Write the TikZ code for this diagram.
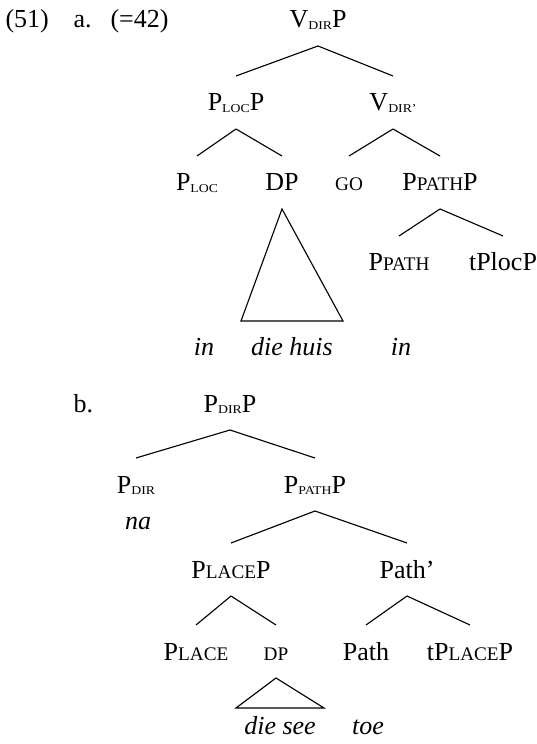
\documentclass[tikz,border=0pt]{standalone}
\usepackage{graphicx}
\usepackage{fontspec}
\setmainfont{Liberation Serif}
\newfontfamily\scfont[Scale=0.74]{Liberation Serif}
\newfontfamily\subfont[Scale=0.46]{Liberation Serif}
\usetikzlibrary{calc}
\newcommand\smc[1]{{\scfont #1}}
\newcommand\lowsc[1]{\raisebox{-0.6pt}{\scalebox{1.15}[1]{\subfont #1}}}
\begin{document}
\begin{tikzpicture}[x=0.4pt,y=-0.4pt,
  lab/.style={anchor=base, inner xsep=0pt, inner ysep=7pt, text height=6.8pt, text depth=0pt,
    font=\fontsize{10.4pt}{12pt}\selectfont},
  edge/.style={draw, line width=0.45pt}]
\useasboundingbox (0,0) rectangle (537,744);
% (a)
\node[lab, anchor=base west] (ex51) at (5,28) {(51)};
\node[lab, anchor=base west] (exa) at (73,28) {a.};
\node[lab, anchor=base west] (ex42) at (110,28) {(=42)};
\node[lab] (vdirp) at (318,28) {V\lowsc{DIR}P};
\node[lab] (plocp) at (236,111) {P\lowsc{LOC}P};
\node[lab] (vdirbar) at (393,111) {V\lowsc{DIR’}};
\node[lab] (ploc) at (197,191) {P\lowsc{LOC}};
\node[lab] (dpa) at (282,191) {DP};
\node[lab] (go) at (349,191) {\smc{GO}};
\node[lab] (ppathp) at (440,191) {P\smc{PATH}P};
\node[lab] (ppath) at (399,271) {P\smc{PATH}};
\node[lab] (tplocp) at (503,271) {tPlocP};
\node[lab] (in1) at (204,356) {\textit{in}};
\node[lab] (diehuis) at (292,356) {\textit{die huis}};
\node[lab] (in2) at (401,356) {\textit{in}};
\draw[edge] (vdirp.south) -- (plocp.north);
\draw[edge] (vdirp.south) -- (vdirbar.north);
\draw[edge] (plocp.south) -- (ploc.north);
\draw[edge] (plocp.south) -- (dpa.north);
\draw[edge] (vdirbar.south) -- (go.north);
\draw[edge] (vdirbar.south) -- (ppathp.north);
\draw[edge] (ppathp.south) -- (ppath.north);
\draw[edge] (ppathp.south) -- (tplocp.north);
\draw[edge] (dpa.south) -- ($(diehuis.north)+(-51,0)$) -- ($(diehuis.north)+(51,0)$) -- cycle;
% (b)
\node[lab, anchor=base west] (exb) at (73,412) {b.};
\node[lab] (pdirp) at (230,412) {P\lowsc{DIR}P};
\node[lab] (pdir) at (136,493) {P\lowsc{DIR}};
\node[lab] (ppathpb) at (315,493) {P\lowsc{PATH}P};
\node[lab] (na) at (138,529) {\textit{na}};
\node[lab] (placep) at (231,578) {P\smc{LACE}P};
\node[lab] (pathbar) at (407,578) {Path’};
\node[lab] (place) at (196,660) {P\smc{LACE}};
\node[lab] (dpb) at (276,660) {\smc{DP}};
\node[lab] (path) at (366,660) {Path};
\node[lab] (tplacep) at (470,660) {tP\smc{LACE}P};
\node[lab] (diesee) at (280,734) {\textit{die see}};
\node[lab] (toe) at (368,734) {\textit{toe}};
\draw[edge] (pdirp.south) -- (pdir.north);
\draw[edge] (pdirp.south) -- (ppathpb.north);
\draw[edge] (ppathpb.south) -- (placep.north);
\draw[edge] (ppathpb.south) -- (pathbar.north);
\draw[edge] (placep.south) -- (place.north);
\draw[edge] (placep.south) -- (dpb.north);
\draw[edge] (pathbar.south) -- (path.north);
\draw[edge] (pathbar.south) -- (tplacep.north);
\draw[edge] (dpb.south) -- ($(diesee.north)+(-44,9)$) -- ($(diesee.north)+(44,9)$) -- cycle;
\end{tikzpicture}
\end{document}
